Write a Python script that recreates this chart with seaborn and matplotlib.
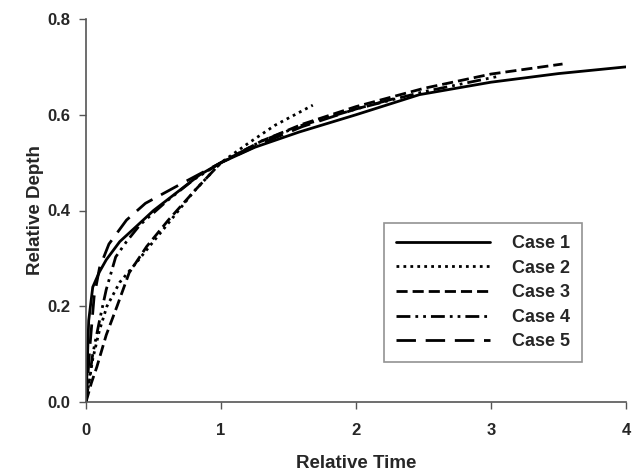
import matplotlib
matplotlib.use("Agg")
import matplotlib.pyplot as plt
import seaborn as sns
import pandas as pd

# Data
t1 = [0, 0.02, 0.05, 0.1, 0.15, 0.25, 0.37, 0.5, 0.67, 0.84, 1.0, 1.25, 1.58, 2.0, 2.47, 3.0, 3.5, 4.0]
d1 = [0, 0.17, 0.24, 0.272, 0.297, 0.335, 0.366, 0.40, 0.437, 0.474, 0.50, 0.532, 0.564, 0.60, 0.642, 0.668, 0.686, 0.70]

t2 = [0, 0.05, 0.1, 0.155, 0.25, 0.37, 0.47, 0.6, 0.8, 1.0, 1.2, 1.4, 1.68]
d2 = [0, 0.09, 0.15, 0.20, 0.25, 0.29, 0.325, 0.37, 0.44, 0.50, 0.54, 0.578, 0.62]

t3 = [0, 0.04, 0.08, 0.15, 0.23, 0.32, 0.45, 0.61, 0.81, 1.0, 1.3, 1.6, 2.0, 2.5, 3.0, 3.53]
d3 = [0, 0.04, 0.073, 0.14, 0.20, 0.27, 0.325, 0.38, 0.443, 0.50, 0.545, 0.58, 0.617, 0.655, 0.685, 0.706]

t4 = [0, 0.05, 0.1, 0.15, 0.22, 0.3, 0.4, 0.6, 0.8, 1.0, 1.3, 1.6, 2.0, 2.5, 3.05]
d4 = [0, 0.10, 0.17, 0.235, 0.303, 0.335, 0.37, 0.42, 0.465, 0.50, 0.545, 0.578, 0.612, 0.648, 0.68]

t5 = [0, 0.03, 0.06, 0.1, 0.17, 0.3, 0.44, 0.7, 1.0, 1.3, 1.6, 2.0, 2.3]
d5 = [0, 0.12, 0.22, 0.28, 0.33, 0.38, 0.415, 0.455, 0.50, 0.54, 0.575, 0.612, 0.635]

cases = ["Case 1", "Case 2", "Case 3", "Case 4", "Case 5"]
series = [(t1, d1), (t2, d2), (t3, d3), (t4, d4), (t5, d5)]

rows = []
for name, (ts, ds) in zip(cases, series):
    for t, d in zip(ts, ds):
        rows.append({"Relative Time": t, "Relative Depth": d, "case": name})
df = pd.DataFrame(rows)

sns.set_style("ticks")
plt.rcParams['font.family'] = ['Liberation Sans', 'DejaVu Sans']
plt.rcParams['font.weight'] = 'bold'

fig = plt.figure(figsize=(6.38, 4.72), dpi=100)
ax = fig.add_axes([86/638, 1-402/472, 540/638, 383/472])

dashes = {"Case 1": "", "Case 2": (1, 1.5), "Case 3": (4, 1.8),
          "Case 4": (5, 1.8, 1, 1.8, 1, 1.8), "Case 5": (7, 3.5)}
sns.lineplot(data=df, x="Relative Time", y="Relative Depth", style="case",
             hue="case", palette={c: "black" for c in cases},
             dashes=dashes, estimator=None, sort=False, lw=2.0, ax=ax)

ax.set_xlim(0, 4)
ax.set_ylim(0, 0.8)
ax.set_xticks([0, 1, 2, 3, 4])
ax.set_yticks([0, 0.2, 0.4, 0.6, 0.8])
ax.set_yticklabels(["0.0", "0.2", "0.4", "0.6", "0.8"])
ax.tick_params(labelsize=12, color="#555555", length=5, width=1, direction="out")
ax.tick_params(axis="x", pad=10)
ax.tick_params(axis="y", pad=6)
for lbl in ax.get_xticklabels() + ax.get_yticklabels():
    lbl.set_fontweight("bold")
for s in ["top", "right"]:
    ax.spines[s].set_visible(False)
for s in ["left", "bottom"]:
    ax.spines[s].set_color("#555555")
    ax.spines[s].set_linewidth(1.2)

ax.set_xlabel("Relative Time", fontsize=13.5, fontweight="bold", labelpad=12)
ax.set_ylabel("Relative Depth", fontsize=13.5, fontweight="bold", labelpad=3)

leg = ax.legend(loc="lower left", bbox_to_anchor=(0.552, 0.104),
                handlelength=5.2, fontsize=13, frameon=True,
                fancybox=False, shadow=False, labelspacing=0.42, borderpad=0.65,
                handletextpad=1.25, borderaxespad=0, title=None)
leg.get_frame().set_edgecolor("#777777")
leg.get_frame().set_linewidth(1.2)
for txt in leg.get_texts():
    txt.set_fontweight("bold")

fig.savefig("out.png", dpi=100)
